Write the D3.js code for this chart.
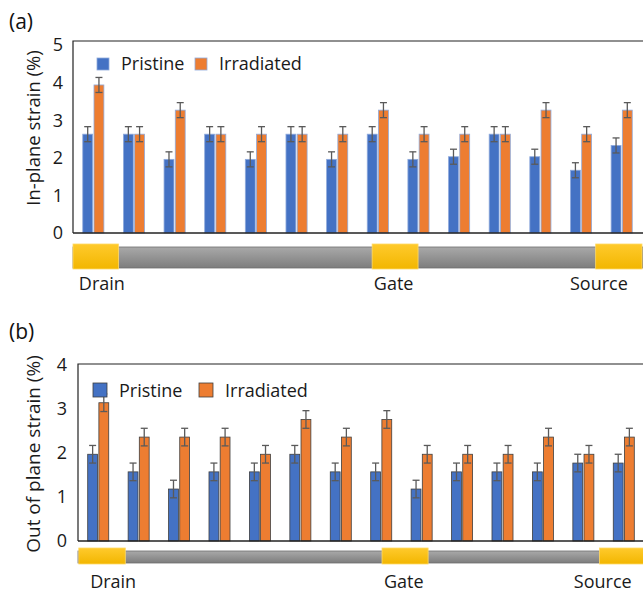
<!DOCTYPE html>
<html>
<head>
<meta charset="utf-8">
<script src="https://cdn.jsdelivr.net/npm/d3@7"></script>
<style>
  body { margin: 0; background: #fff; }
  svg { display: block; font-family: "Open Sans", "Noto Sans", sans-serif; }
</style>
</head>
<body>
<svg id="chart" width="643" height="593"></svg>
<script>
/* two grouped bar panels: in-plane and out of plane strain along the channel */

var positions = d3.range(1, 15);
var series = ["Pristine", "Irradiated"];

// panel (a) in-plane strain (%)
var inPristine   = [2.63, 2.63, 1.96, 2.63, 1.96, 2.63, 1.96, 2.63, 1.96, 2.03, 2.63, 2.03, 1.67, 2.33];
var inIrradiated = [3.94, 2.63, 3.27, 2.63, 2.63, 2.63, 2.63, 3.27, 2.63, 2.63, 2.63, 3.27, 2.63, 3.27];
var inError = 0.2;
var inTicks = [0, 1, 2, 3, 4, 5];

// panel (b) out of plane strain (%)
var outPristine   = [1.97, 1.57, 1.18, 1.57, 1.57, 1.97, 1.57, 1.57, 1.18, 1.57, 1.57, 1.57, 1.77, 1.77];
var outIrradiated = [3.14, 2.36, 2.36, 2.36, 1.97, 2.76, 2.36, 2.76, 1.97, 1.97, 1.97, 2.36, 1.97, 2.36];
var outError = 0.2;
var outTicks = [0, 1, 2, 3, 4];

// electrodes along the device, in group units
var electrodes = ["Drain", "Gate", "Source"];

var colors = { Pristine: "#4472C4", Irradiated: "#ED7D31" };

var svg = d3.select("#chart");

var defs = svg.append("defs");
var gGray = defs.append("linearGradient").attr("id", "gray").attr("x1", 0).attr("x2", 0).attr("y1", 0).attr("y2", 1);
gGray.append("stop").attr("offset", "0%").attr("stop-color", "#a9a9a9");
gGray.append("stop").attr("offset", "100%").attr("stop-color", "#7d7d7d");
var gGold = defs.append("linearGradient").attr("id", "gold").attr("x1", 0).attr("x2", 0).attr("y1", 0).attr("y2", 1);
gGold.append("stop").attr("offset", "0%").attr("stop-color", "#ffca2c");
gGold.append("stop").attr("offset", "100%").attr("stop-color", "#f2b600");

function panel(cfg) {
  var x = d3.scaleBand()
      .domain(positions)
      .range([cfg.left, cfg.right]);

  var xIn = d3.scaleBand()
      .domain(series)
      .range([x.bandwidth() * 0.24, x.bandwidth() * 0.76])
      .paddingInner(0.12);

  var y = d3.scaleLinear()
      .domain([0, cfg.yMax])
      .range([cfg.bottom, cfg.top]);

  // position along the device in group units
  var u = d3.scaleLinear().domain([0, positions.length]).range([cfg.left, cfg.right]);

  var g = svg.append("g");

  // panel letter
  g.append("text")
    .attr("x", 9)
    .attr("y", cfg.letterY)
    .attr("font-size", 21)
    .attr("fill", "#111")
    .text(cfg.letter);

  // y axis labels, no tick marks
  var yAxis = d3.axisLeft(y)
      .tickValues(cfg.ticks)
      .tickSize(0)
      .tickPadding(cfg.tickPad)
      .tickFormat(d3.format("d"));

  g.append("g")
    .attr("transform", "translate(" + cfg.left + ",0)")
    .call(yAxis)
    .call(function(s) { s.select(".domain").remove(); })
    .selectAll("text")
      .attr("font-size", 18)
      .attr("fill", "#1a1a1a")
      .attr("font-family", "'Open Sans', sans-serif");

  g.append("text")
    .attr("transform", "translate(" + cfg.titleX + "," + cfg.titleY + ") rotate(-90)")
    .attr("text-anchor", "middle")
    .attr("font-size", cfg.titleSize)
    .attr("fill", "#1a1a1a")
    .text(cfg.title);

  // bars
  var groups = g.selectAll("g.grp")
    .data(positions)
    .enter().append("g")
      .attr("class", "grp")
      .attr("transform", function(d) { return "translate(" + x(d) + ",0)"; });

  var bars = groups.selectAll("g.bar")
    .data(function(d, i) {
      return [
        { key: "Pristine", v: cfg.pristine[i] },
        { key: "Irradiated", v: cfg.irradiated[i] }
      ];
    })
    .enter().append("g").attr("class", "bar");

  bars.append("rect")
    .attr("x", function(d) { return xIn(d.key); })
    .attr("width", xIn.bandwidth())
    .attr("y", function(d) { return y(d.v); })
    .attr("height", function(d) { return y(0) - y(d.v); })
    .attr("fill", function(d) { return colors[d.key]; })
    .attr("stroke", cfg.barStroke)
    .attr("stroke-width", 0.8);

  // error bars
  var err = bars.append("g")
    .attr("stroke", "#5a5a5a")
    .attr("stroke-width", 1.3);

  err.append("line")
    .attr("x1", function(d) { return xIn(d.key) + xIn.bandwidth() / 2; })
    .attr("x2", function(d) { return xIn(d.key) + xIn.bandwidth() / 2; })
    .attr("y1", function(d) { return y(d.v + cfg.err); })
    .attr("y2", function(d) { return y(d.v - cfg.err); });

  [1, -1].forEach(function(sgn) {
    err.append("line")
      .attr("x1", function(d) { return xIn(d.key) + xIn.bandwidth() / 2 - 3.5; })
      .attr("x2", function(d) { return xIn(d.key) + xIn.bandwidth() / 2 + 3.5; })
      .attr("y1", function(d) { return y(d.v + sgn * cfg.err); })
      .attr("y2", function(d) { return y(d.v + sgn * cfg.err); });
  });

  // frame: left, top and baseline
  g.append("path")
    .attr("d", "M" + cfg.left + "," + y(0) + "V" + cfg.top + "H" + 643)
    .attr("fill", "none")
    .attr("stroke", "#222")
    .attr("stroke-width", 1.2);
  g.append("line")
    .attr("x1", cfg.left).attr("x2", 643)
    .attr("y1", y(0)).attr("y2", y(0))
    .attr("stroke", "#222")
    .attr("stroke-width", 1.4);

  // legend
  var leg = g.append("g");
  series.forEach(function(s, i) {
    leg.append("rect")
      .attr("x", cfg.legX[i])
      .attr("y", cfg.legY - cfg.legBox)
      .attr("width", cfg.legBox)
      .attr("height", cfg.legBox)
      .attr("fill", colors[s])
      .attr("stroke", cfg.barStroke)
      .attr("stroke-width", 0.8);
    leg.append("text")
      .attr("x", cfg.legX[i] + cfg.legBox + 12)
      .attr("y", cfg.legY)
      .attr("font-size", 18)
      .attr("fill", "#1a1a1a")
      .text(s);
  });

  // device sketch under the axis
  var dev = g.append("g");
  dev.append("rect")
    .attr("x", u(0))
    .attr("y", cfg.devY + 3)
    .attr("width", 643 - u(0))
    .attr("height", cfg.devH - 4)
    .attr("fill", "url(#gray)")
    .attr("stroke", "#6e6e6e")
    .attr("stroke-width", 0.8);

  dev.selectAll("rect.el")
    .data(electrodes)
    .enter().append("rect")
      .attr("class", "el")
      .attr("x", function(d, i) { return u(cfg.elFrom[i]); })
      .attr("y", cfg.devY)
      .attr("width", function(d, i) { return u(cfg.elTo[i]) - u(cfg.elFrom[i]); })
      .attr("height", cfg.devH)
      .attr("fill", "url(#gold)")
      .attr("stroke", "#ffd966")
      .attr("stroke-width", 0.8);

  dev.selectAll("text")
    .data(electrodes)
    .enter().append("text")
      .attr("x", function(d, i) { return u(cfg.labelAt[i]); })
      .attr("y", cfg.labelY)
      .attr("text-anchor", "middle")
      .attr("font-size", 18)
      .attr("fill", "#1a1a1a")
      .text(function(d) { return d; });
}

panel({
  letter: "(a)", letterY: 29,
  left: 73, right: 642, top: 41, bottom: 233, yMax: 5.11,
  ticks: inTicks, tickPad: 10,
  pristine: inPristine, irradiated: inIrradiated, err: inError,
  barStroke: "#8faadc",
  title: "In-plane strain (%)", titleX: 40, titleY: 128, titleSize: 18.5,
  legX: [97, 195], legY: 70, legBox: 12,
  devY: 244, devH: 25,
  elFrom: [0, 7.36, 12.86], elTo: [1.12, 8.49, 14],
  labelAt: [0.71, 7.89, 12.94], labelY: 290
});

panel({
  letter: "(b)", letterY: 339,
  left: 78, right: 644, top: 364, bottom: 541, yMax: 4.02,
  ticks: outTicks, tickPad: 11,
  pristine: outPristine, irradiated: outIrradiated, err: outError,
  barStroke: "#3f3f3f",
  title: "Out of plane strain (%)", titleX: 40, titleY: 454, titleSize: 19,
  legX: [93, 199], legY: 397, legBox: 14,
  devY: 548, devH: 16,
  elFrom: [0.02, 7.52, 12.9], elTo: [1.17, 8.66, 14],
  labelAt: [0.87, 8.06, 12.98], labelY: 588
});
</script>
</body>
</html>
